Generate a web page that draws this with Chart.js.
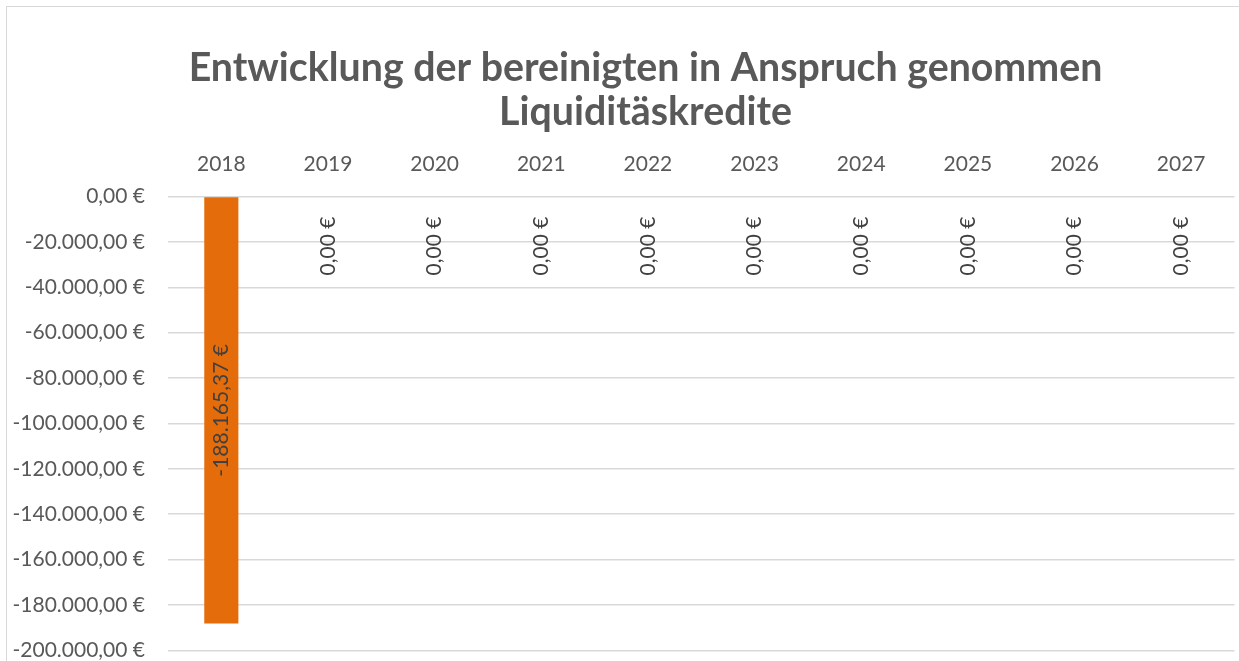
<!DOCTYPE html>
<html>
<head>
<meta charset="utf-8">
<script src="https://cdn.jsdelivr.net/npm/chart.js@4"></script>
<style>
  html, body { margin: 0; padding: 0; background: #ffffff; overflow: hidden; }
  #wrap { position: relative; width: 1239px; height: 661px; overflow: hidden; }
  #frame { position: absolute; left: 6px; top: 6px; width: 1400px; height: 800px;
           border-top: 1.5px solid #d9d9d9; border-left: 1.5px solid #d9d9d9; }
  canvas { position: absolute; left: 0; top: 0; }
</style>
</head>
<body>
<div id="wrap">
  <div id="frame"></div>
  <canvas id="c" width="1291" height="700"></canvas>
</div>
<script>
// ---- data ----
const categories = ['2018', '2019', '2020', '2021', '2022', '2023', '2024', '2025', '2026', '2027'];
const values = [-188165.37, 0, 0, 0, 0, 0, 0, 0, 0, 0];
const titleLines = ['Entwicklung der bereinigten in Anspruch genommen', 'Liquiditäskredite'];
const yMin = -200000;
const yMax = 0;
const yStep = 20000;

function fmtEuro(v) {
  const neg = v < 0 && Math.abs(v) >= 0.005;
  const abs = Math.abs(v);
  let [intPart, dec] = abs.toFixed(2).split('.');
  intPart = intPart.replace(/\B(?=(\d{3})+(?!\d))/g, '.');
  return (neg ? '-' : '') + intPart + ',' + dec + ' €';
}

const FONT = 'Lato';
const TEXT = '#595959';

const labelPlugin = {
  id: 'barLabels',
  afterDatasetsDraw(chart) {
    const ctx = chart.ctx;
    const meta = chart.getDatasetMeta(0);
    const ds = chart.data.datasets[0].data;
    ctx.save();
    ctx.font = '21px ' + FONT;
    ctx.fillStyle = '#404040';
    ctx.textBaseline = 'middle';
    meta.data.forEach((el, i) => {
      const v = ds[i];
      const txt = fmtEuro(v);
      ctx.save();
      if (v !== 0) {
        const cy = (el.y + el.base) / 2;
        ctx.translate(el.x, cy);
        ctx.rotate(-Math.PI / 2);
        ctx.textAlign = 'center';
        ctx.fillText(txt, 0, 0);
      } else {
        ctx.translate(el.x, el.base + 20);
        ctx.rotate(-Math.PI / 2);
        ctx.textAlign = 'right';
        ctx.fillText(txt, 0, 0);
      }
      ctx.restore();
    });
    ctx.restore();
  }
};

new Chart(document.getElementById('c'), {
  type: 'bar',
  data: {
    labels: categories,
    datasets: [{
      data: values,
      backgroundColor: '#E46C0A',
      borderWidth: 0,
      barPercentage: 0.32,
      categoryPercentage: 1.0,
      yAxisID: 'y'
    }]
  },
  options: {
    responsive: false,
    animation: false,
    devicePixelRatio: 1,
    layout: { padding: { left: 0, right: 0, top: 0, bottom: 49.7 } },
    plugins: {
      legend: { display: false },
      tooltip: { enabled: false },
      title: {
        display: true,
        text: titleLines,
        color: TEXT,
        font: { family: FONT, size: 39.3, weight: 'bold', lineHeight: 1.1 },
        padding: { top: 47, bottom: 0 }
      }
    },
    scales: {
      x: {
        position: 'top',
        grid: { display: false, drawTicks: false },
        border: { display: false },
        ticks: { color: TEXT, font: { family: FONT, size: 21 }, padding: 20, maxRotation: 0 },
        afterFit(scale) { scale.height = 63.1; }
      },
      y: {
        min: yMin,
        max: yMax,
        grid: { color: '#d9d9d9', lineWidth: 1.5, drawTicks: false },
        border: { display: false },
        ticks: {
          stepSize: yStep,
          color: TEXT,
          font: { family: FONT, size: 21 },
          padding: 23,
          callback: (v) => fmtEuro(v)
        },
        afterFit(scale) { scale.width = 168; }
      },
      ySpacer: {
        position: 'right',
        min: yMin,
        max: yMax,
        grid: { display: false, drawTicks: false },
        border: { display: false },
        ticks: { display: false },
        afterFit(scale) { scale.width = 56.5; }
      }
    }
  },
  plugins: [labelPlugin]
});
</script>
</body>
</html>
